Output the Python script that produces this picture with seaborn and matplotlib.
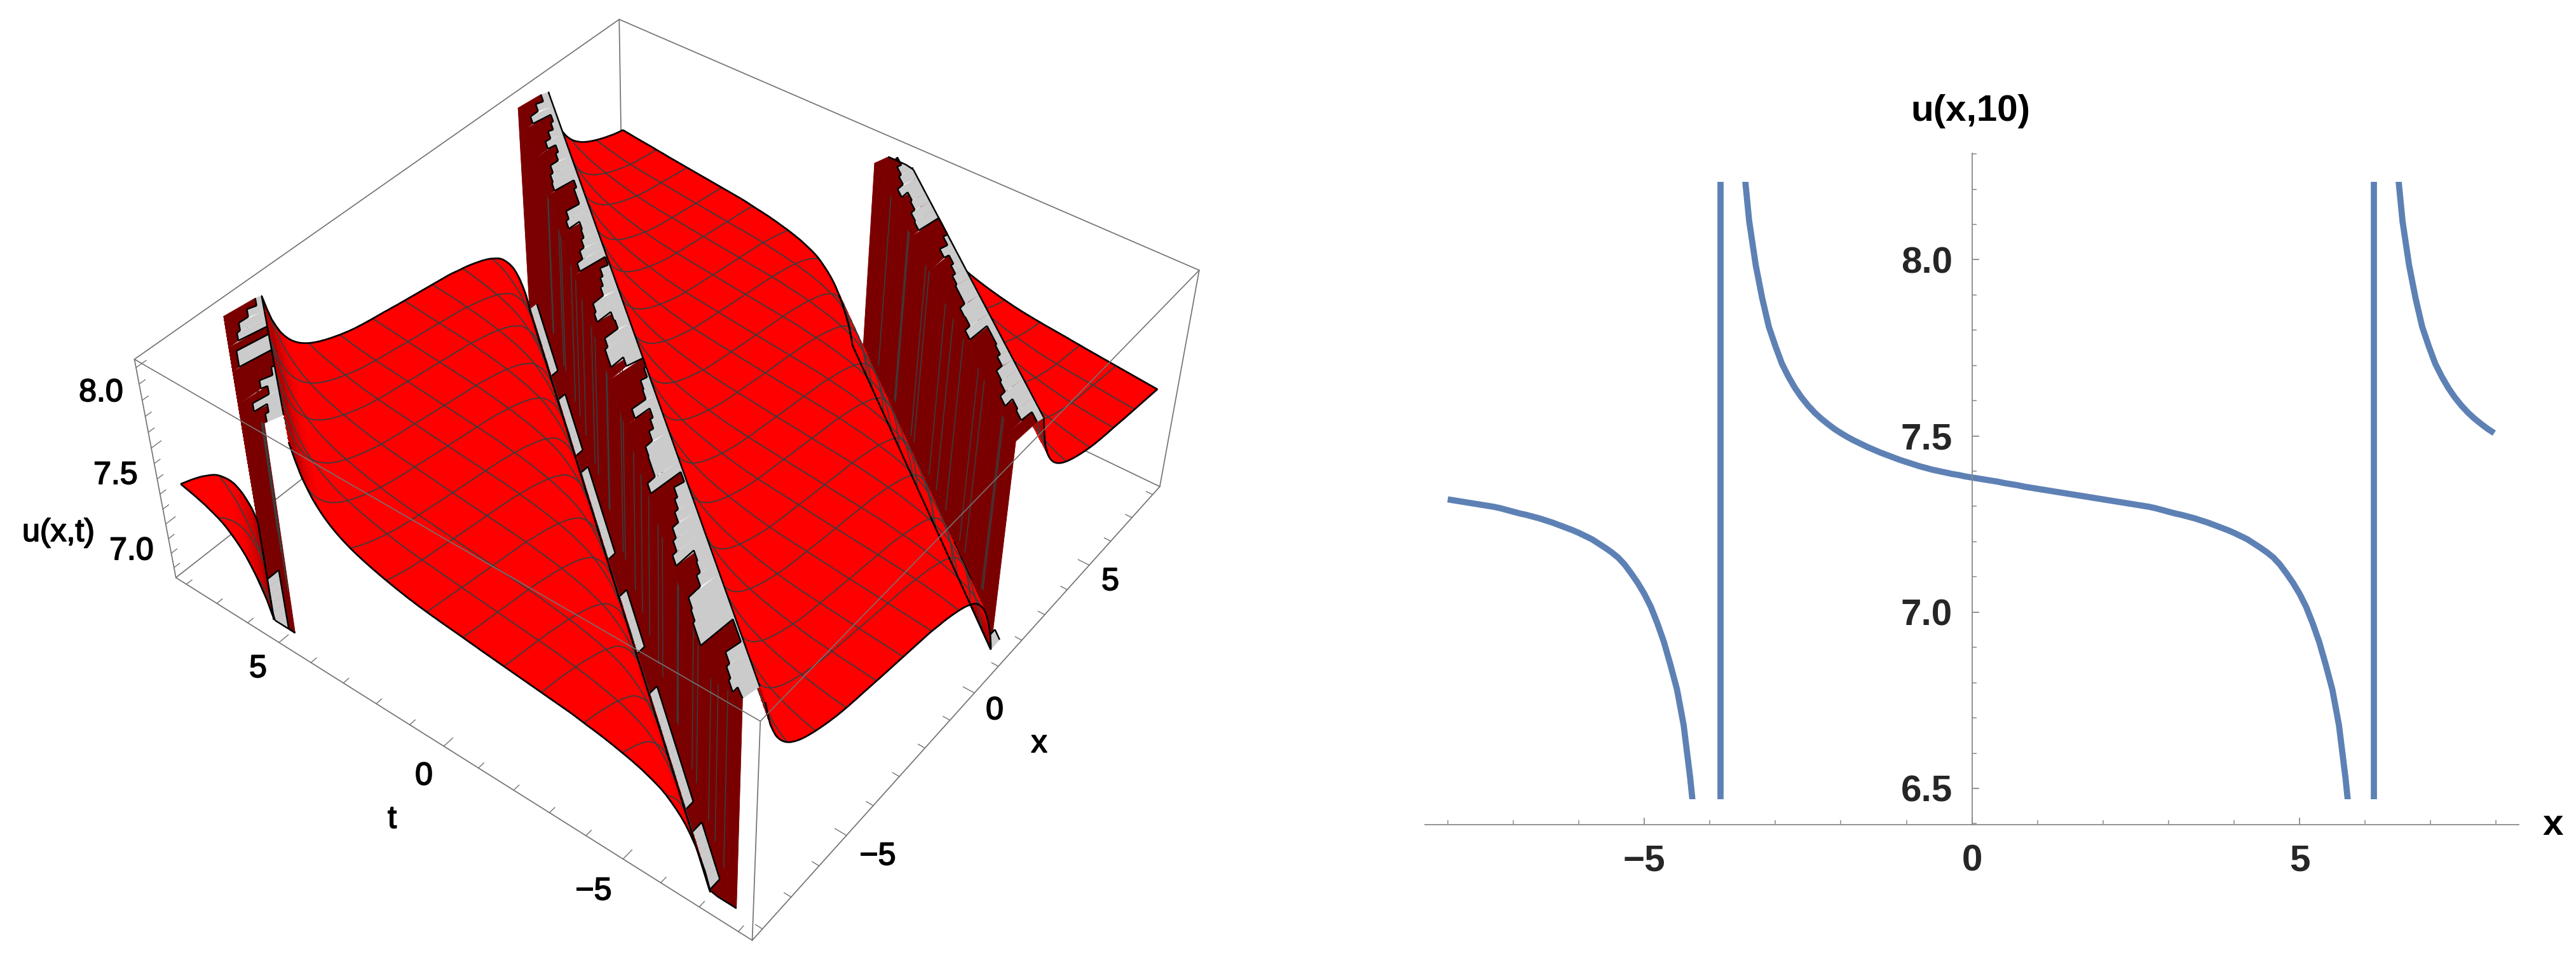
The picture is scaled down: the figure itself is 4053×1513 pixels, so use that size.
import numpy as np
import matplotlib
matplotlib.use('Agg')
import matplotlib.pyplot as plt
import matplotlib.patheffects as pe
import seaborn as sns
from matplotlib.patches import Rectangle
from matplotlib.ticker import MultipleLocator
from mpl_toolkits.mplot3d.art3d import Poly3DCollection, Line3DCollection

sns.set_theme(style='white')
plt.rcParams['font.family'] = ['Liberation Sans', 'DejaVu Sans']

W, H = 4053, 1513

# u(x,10), x = -3.8, -3.7 ... 6.1 (one period between the poles)
phase_u = np.array([
    11.0, 9.7, 8.9, 8.30, 8.11, 7.985, 7.89, 7.81, 7.755, 7.705,
    7.668, 7.636, 7.609, 7.586, 7.566, 7.549, 7.534, 7.520, 7.508, 7.497,
    7.487, 7.478, 7.469, 7.461, 7.453, 7.446, 7.439, 7.432, 7.426, 7.420,
    7.414, 7.409, 7.404, 7.400, 7.396, 7.392, 7.389, 7.385, 7.382, 7.379,
    7.376, 7.373, 7.37, 7.366, 7.363, 7.36, 7.356, 7.353, 7.35, 7.347,
    7.344, 7.341, 7.338, 7.335, 7.332, 7.329, 7.326, 7.323, 7.32, 7.317,
    7.314, 7.311, 7.308, 7.305, 7.302, 7.299, 7.295, 7.29, 7.285, 7.28,
    7.276, 7.271, 7.266, 7.26, 7.254, 7.247, 7.24, 7.233, 7.225, 7.216,
    7.207, 7.195, 7.183, 7.17, 7.155, 7.135, 7.11, 7.083, 7.052, 7.015,
    6.968, 6.915, 6.85, 6.78, 6.68, 6.53, 6.35, 6.1, 5.6, 4.5])
profile_x = np.linspace(-3.8, 6.1, 100)
pole_xs = [-3.84, 6.13]

# width of the grey top patches along each ridge, far end first, read in picture pixels
ridge1_top = [10, 25, 40, 45, 0, 50, 50, 0, 0, 5, 25, 15, 40, 20, 25]
ridge2_top = [15, 30, 45, 10, 15, 25, 35, 20, 25, 40,
              45, 47, 10, 15, 15, 40, 45, 25, 27, 32,
              40, 50, 3, 18, 23, 28, 47, 50, 25, 23,
              47, 52, 52, 30, 0, 4, 16, 18, 43, 17,
              22, 30, 42, 43, 43, 56, 4, 22, 27, 33,
              43, 48, 55, 25, 27, 33, 53, 55, 58, 58,
              4, 4, 30, 35, 38, 30]
ridge3_top = [0, 18, 28, 33, 45, 32, 35, 43, 45, 0, 0, 10, 28, 17, 23, 30, 33, 33, 43, 42,
              52, 15, 15, 18, 25, 37, 40, 50, 35, 38, 15]
# how much of the low cap is wall coloured (1 = no grey showing)
ridge1_low = [1] * 7 + [.3] * 8
ridge2_low = ([.45] * 9 + [1] * 3 + [.45] * 7 + [1] * 2 + [.45] * 10 + [1] * 4 + [.45] * 6 + [1] * 4
              + [.45] * 11 + [1] * 2 + [.35] * 5 + [1] * 3)
ridge3_low = [1] * 8 + [.45] * 2 + [1] * 11 + [.35] * 4 + [1] * 5 + [.3]

x_tick_vals = [-5, 0, 5]
u_tick_vals = [6.5, 7.0, 7.5, 8.0]

# 3D box
L = 8.35
z_lo, z_hi = 6.63, 8.05
clip_lo, clip_hi = 6.66, 8.02
cap_hi = 0.55
cap_lo = 0.54
cap_back = 0.6

red = np.array([1.0, 0, 0])
wall_col = '#7a0000'
cap_col = '#cbcbcb'
mesh_col = '#3c3c3c'
box_col = '#747474'

fig = plt.figure(figsize=(W / 100, H / 100), dpi=100)
ax = fig.add_subplot(projection='3d', computed_zorder=False)
ax.set_xlim(-L, L, view_margin=0)
ax.set_ylim(-L, L, view_margin=0)
ax.set_zlim(z_lo, z_hi, view_margin=0)
ax.set_axis_off()
ax.patch.set_visible(False)

# camera fitted to the box corners and ticks of the reference
ax.view_init(42.0175, -142.5814, -0.1749)
ax.set_proj_type('persp', focal_length=np.exp(-0.8284))
ax.set_box_aspect((1, 0.996, 0.396))
ax.set_position([0.05593432, -0.00411884, 0.40365865, 1.09148879])
ax.apply_aspect = lambda position=None: None

# surface: sheared copy of the profile, looked up on a grid that lands on its samples
x_grid = np.linspace(-8, 8, 161)
t_grid = np.linspace(-8, 8, 129)
J_idx, I_idx = np.meshgrid(np.arange(161), np.arange(129))
shift = 102 + J_idx - I_idx
K = shift % 100
U = phase_u[K]
PIECE = shift // 100
X, T = np.meshgrid(x_grid, t_grid)
slope = np.abs(np.gradient(phase_u, 0.1))
SL = slope[K]
mesh_i = [int(round(k * 128 / 15)) for k in range(1, 15)]
mesh_j = [int(round(k * 160 / 15)) for k in range(1, 15)]
K_START = 5  # steep back side of each branch stays hidden behind the cap


def clip_poly(v):
    out = v
    for lim, sgn in ((clip_lo, 1), (clip_hi, -1)):
        res = []
        for a, b in zip(out, np.roll(out, -1, axis=0)):
            ina = sgn * (a[2] - lim) >= 0
            inb = sgn * (b[2] - lim) >= 0
            if ina:
                res.append(a)
            if ina != inb:
                res.append(a + (b - a) * (lim - a[2]) / (b[2] - a[2]))
        out = np.array(res) if res else np.zeros((0, 3))
        if len(out) == 0:
            break
    return out


def clip_seg(a, b):
    pa, pb = np.array(a, float), np.array(b, float)
    for lim, sgn in ((clip_lo, 1), (clip_hi, -1)):
        da, db = sgn * (pa[2] - lim), sgn * (pb[2] - lim)
        if da < 0 and db < 0:
            return None
        if da < 0:
            pa = pa + (pb - pa) * da / (da - db)
        elif db < 0:
            pb = pb + (pa - pb) * db / (db - da)
    return [pa, pb]


z_counter = [10]


def add(coll):
    coll.set_clip_on(False)
    ax.add_collection3d(coll, autolim=False)
    coll.set_zorder(z_counter[0])
    z_counter[0] += 1


def keep(a, n):
    return PIECE[a] == n and K[a] >= K_START


def grid_seg(a, b):
    return clip_seg((X[a], T[a], U[a]), (X[b], T[b], U[b]))


def draw_piece(n):
    polys, cols, edge_segs = [], [], []
    for i in range(128):
        for j in range(160):
            idx = [(i, j), (i, j + 1), (i + 1, j + 1), (i + 1, j)]
            if not all(keep(a, n) for a in idx):
                continue
            v = np.array([[X[a], T[a], U[a]] for a in idx])
            if v[:, 2].max() < clip_lo:
                continue
            if v[:, 2].min() < clip_lo or v[:, 2].max() > clip_hi:
                v = clip_poly(v)
                if len(v) < 3:
                    continue
                for a, b in zip(v, np.roll(v, -1, axis=0)):
                    if abs(a[2] - b[2]) < 1e-9 and abs(a[2] - clip_lo) < 1e-9:
                        edge_segs.append([a, b])
            s = np.mean([SL[a] for a in idx])
            f = 1 - 0.5 * np.clip((s - 0.3) / 1.0, 0, 1)
            polys.append(v)
            cols.append(red * f)
    cols = np.array(cols)
    add(Poly3DCollection(polys, facecolors=cols, edgecolors=cols, linewidths=0.4, antialiased=False))
    mesh = []
    for i in mesh_i:
        for j in range(160):
            if keep((i, j), n) and keep((i, j + 1), n):
                sg = grid_seg((i, j), (i, j + 1))
                if sg:
                    mesh.append(sg)
    for j in mesh_j:
        for i in range(128):
            if keep((i, j), n) and keep((i + 1, j), n):
                sg = grid_seg((i, j), (i + 1, j))
                if sg:
                    mesh.append(sg)
    if mesh:
        add(Line3DCollection(mesh, colors=mesh_col, linewidths=1.4))
    for i in (0, 128):
        for j in range(160):
            if keep((i, j), n) and keep((i, j + 1), n):
                sg = grid_seg((i, j), (i, j + 1))
                if sg:
                    edge_segs.append(sg)
    for j in (0, 160):
        for i in range(128):
            if keep((i, j), n) and keep((i + 1, j), n):
                sg = grid_seg((i, j), (i + 1, j))
                if sg:
                    edge_segs.append(sg)
    if edge_segs:
        add(Line3DCollection(edge_segs, colors='black', linewidths=2.0))


def pole_x(t, m):
    return 0.8 * t - 11.85 + 10 * m


def draw_wall(m, top_px, low):
    t_hi = min(8, (8 + 11.85 - 10 * m) / 0.8)
    t_lo = max(-8, (-8 + 11.85 - 10 * m) / 0.8)
    edges = np.linspace(t_hi, t_lo, len(top_px) + 1)
    top = [1 - w / 60 for w in top_px]
    z_end = phase_u[K_START]

    def top_pt(t, c):
        r = -cap_back + (cap_back + cap_hi) * c
        z = clip_hi + (z_end - clip_hi) * max(r / cap_hi, 0)
        return [np.clip(pole_x(t, m) + r, -8, 8), t, z]

    def low_pt(t, e):
        return [np.clip(pole_x(t, m) - e * cap_lo, -8, 8), t, clip_lo]

    back, low_gray, top_dark, top_gray, outl = [], [], [], [], []
    for k, (c, e) in enumerate(zip(top, low)):
        ta, tb = edges[k], edges[k + 1]
        back.append(np.array([low_pt(ta, 1), low_pt(tb, 1), top_pt(tb, 0), top_pt(ta, 0)]))
        if e < 1:
            low_gray.append(np.array([low_pt(ta, e), low_pt(tb, e), low_pt(tb, 1), low_pt(ta, 1)]))
            outl.append([low_pt(ta, e), low_pt(tb, e)])
        outl.append([low_pt(ta, 1), low_pt(tb, 1)])
        if c > 0:
            top_dark.append(np.array([top_pt(ta, 0), top_pt(tb, 0), top_pt(tb, c), top_pt(ta, c)]))
        if c < 1:
            top_gray.append(np.array([top_pt(ta, c), top_pt(tb, c), top_pt(tb, 1), top_pt(ta, 1)]))
        outl.append([top_pt(ta, c), top_pt(tb, c)])
        outl.append([top_pt(ta, 1), top_pt(tb, 1)])
        if k + 1 < len(top):
            outl.append([top_pt(tb, c), top_pt(tb, top[k + 1])])
            outl.append([low_pt(tb, e), low_pt(tb, low[k + 1])])
    add(Poly3DCollection(back, facecolors=wall_col, edgecolors=wall_col, linewidths=0.6))
    if low_gray:
        add(Poly3DCollection(low_gray, facecolors=cap_col, edgecolors=cap_col, linewidths=0.4))
    vert = []
    for xv in mesh_j:
        tv = (x_grid[xv] + 11.85 - 10 * m) / 0.8
        if t_lo < tv < t_hi:
            vert.append([[x_grid[xv], tv, clip_lo], [x_grid[xv], tv, clip_hi]])
    for tv in mesh_i:
        tt = t_grid[tv]
        if t_lo < tt < t_hi:
            vert.append([[pole_x(tt, m), tt, clip_lo], [pole_x(tt, m), tt, clip_hi]])
    if vert:
        add(Line3DCollection(vert, colors=mesh_col, linewidths=1.2))
    if top_dark:
        add(Poly3DCollection(top_dark, facecolors=wall_col, edgecolors=wall_col, linewidths=0.6))
    if top_gray:
        add(Poly3DCollection(top_gray, facecolors=cap_col, edgecolors=cap_col, linewidths=0.4))
    add(Line3DCollection(outl, colors='black', linewidths=1.8))


def edge(a, b, lw=1.25, z=1):
    ax.plot([a[0], b[0]], [a[1], b[1]], [a[2], b[2]], color=box_col, lw=lw, zorder=z, clip_on=False)


# back of the box
edge((-L, L, z_hi), (L, L, z_hi))
edge((L, L, z_hi), (L, -L, z_hi))
edge((L, L, z_hi), (L, L, z_lo))
edge((-L, L, z_lo), (L, L, z_lo))
edge((L, L, z_lo), (L, -L, z_lo))
edge((-L, L, z_hi), (-L, L, z_lo))
edge((L, -L, z_hi), (L, -L, z_lo))
edge((-L, L, z_lo), (-L, -L, z_lo))
edge((-L, -L, z_lo), (L, -L, z_lo))
edge((-L, -L, z_hi), (-L, -L, z_lo))

# ticks
for v in range(-8, 9):
    ln = 0.3 if v % 5 == 0 else 0.18
    edge((-L, v, z_lo), (-L + ln, v, z_lo), lw=1.0)
    edge((v, -L, z_lo), (v, -L + ln, z_lo), lw=1.0)
for v in np.arange(6.7, 8.05, 0.1):
    ln = 0.3 if abs(v * 2 - round(v * 2)) < 1e-6 else 0.18
    edge((-L, L, v), (-L + ln, L, v), lw=1.0)

# surface back to front
draw_piece(2)
draw_wall(2, ridge3_top, ridge3_low)
draw_piece(1)
draw_wall(1, ridge2_top, ridge2_low)
draw_piece(0)
draw_wall(0, ridge1_top, ridge1_low)
draw_piece(-1)

# front top edges run over the surface
edge((-L, L, z_hi), (-L, -L, z_hi), z=500, lw=1.2)
edge((-L, -L, z_hi), (L, -L, z_hi), z=500, lw=1.2)


def lab(px, py, s, size=36, **kw):
    return fig.text(px / W, 1 - py / H, s, fontsize=size, ha='center', va='center', color='black', **kw)


for px, py, s in [(159, 618, '8.0'), (182, 748, '7.5'), (207, 867, '7.0'), (92, 838, 'u(x,t)'),
                  (406, 1052, '5'), (667, 1221, '0'), (617, 1289, 't'), (934, 1402, '\u22125'),
                  (1381, 1347, '\u22125'), (1565, 1118, '0'), (1635, 1170, 'x'), (1747, 915, '5')]:
    tx = lab(px, py, s)
    tx.set_path_effects([pe.withStroke(linewidth=1.3, foreground='black')])

# right panel
ax2 = fig.add_axes([2241.7 / W, 1 - 1296.5 / H, (3962.5 - 2241.7) / W, (1296.5 - 241) / H])
ax2.patch.set_visible(False)
line_col = '#5E81B5'
left_x = profile_x[58:] - 10
right_x = profile_x[:19] + 9.97
branches = [(left_x, phase_u[58:]), (profile_x, phase_u), (right_x, phase_u[:19])]
for bx, by in branches:
    sns.lineplot(x=bx, y=by, ax=ax2, color=line_col, linewidth=7, sort=False, errorbar=None, estimator=None)
for px_ in pole_xs:
    sns.lineplot(x=[px_, px_], y=[6.47, 8.22], ax=ax2, color=line_col, linewidth=7, sort=False,
                 errorbar=None, estimator=None)
clip_rect = Rectangle((-8.35, 6.47), 16.7, 1.75, transform=ax2.transData)
for ln in ax2.get_lines():
    ln.set_clip_path(clip_rect)
    ln.set_solid_capstyle('butt')
ax2.set_xlim(-8.35, 8.34)
ax2.set_ylim(6.398, 8.302)
for sp in ('top', 'right'):
    ax2.spines[sp].set_visible(False)
ax2.spines['left'].set_position(('data', 0))
for sp in ('left', 'bottom'):
    ax2.spines[sp].set_color('#8a8a8a')
    ax2.spines[sp].set_linewidth(1.3)
ax2.set_xticks(x_tick_vals)
ax2.set_xticklabels(['\u22125', '0', '5'])
ax2.set_yticks(u_tick_vals)
ax2.set_yticklabels(['6.5', '7.0', '7.5', '8.0'])
ax2.xaxis.set_minor_locator(MultipleLocator(1))
ax2.yaxis.set_minor_locator(MultipleLocator(0.1))
ax2.tick_params(axis='both', which='major', direction='in', length=8, width=1.3, color='#8a8a8a',
                labelsize=42, pad=22, bottom=True, left=True)
ax2.tick_params(axis='both', which='minor', direction='in', length=5, width=1.1, color='#8a8a8a',
                bottom=True, left=True)
for tl in ax2.get_xticklabels() + ax2.get_yticklabels():
    tl.set_fontweight('bold')
ax2.set_xlabel('')
ax2.set_ylabel('')
lab(3100, 175, 'u(x,10)', size=42, weight='bold')
lab(4017, 1298, 'x', size=42, weight='bold')

fig.savefig('out.png', dpi=100, facecolor='white')
